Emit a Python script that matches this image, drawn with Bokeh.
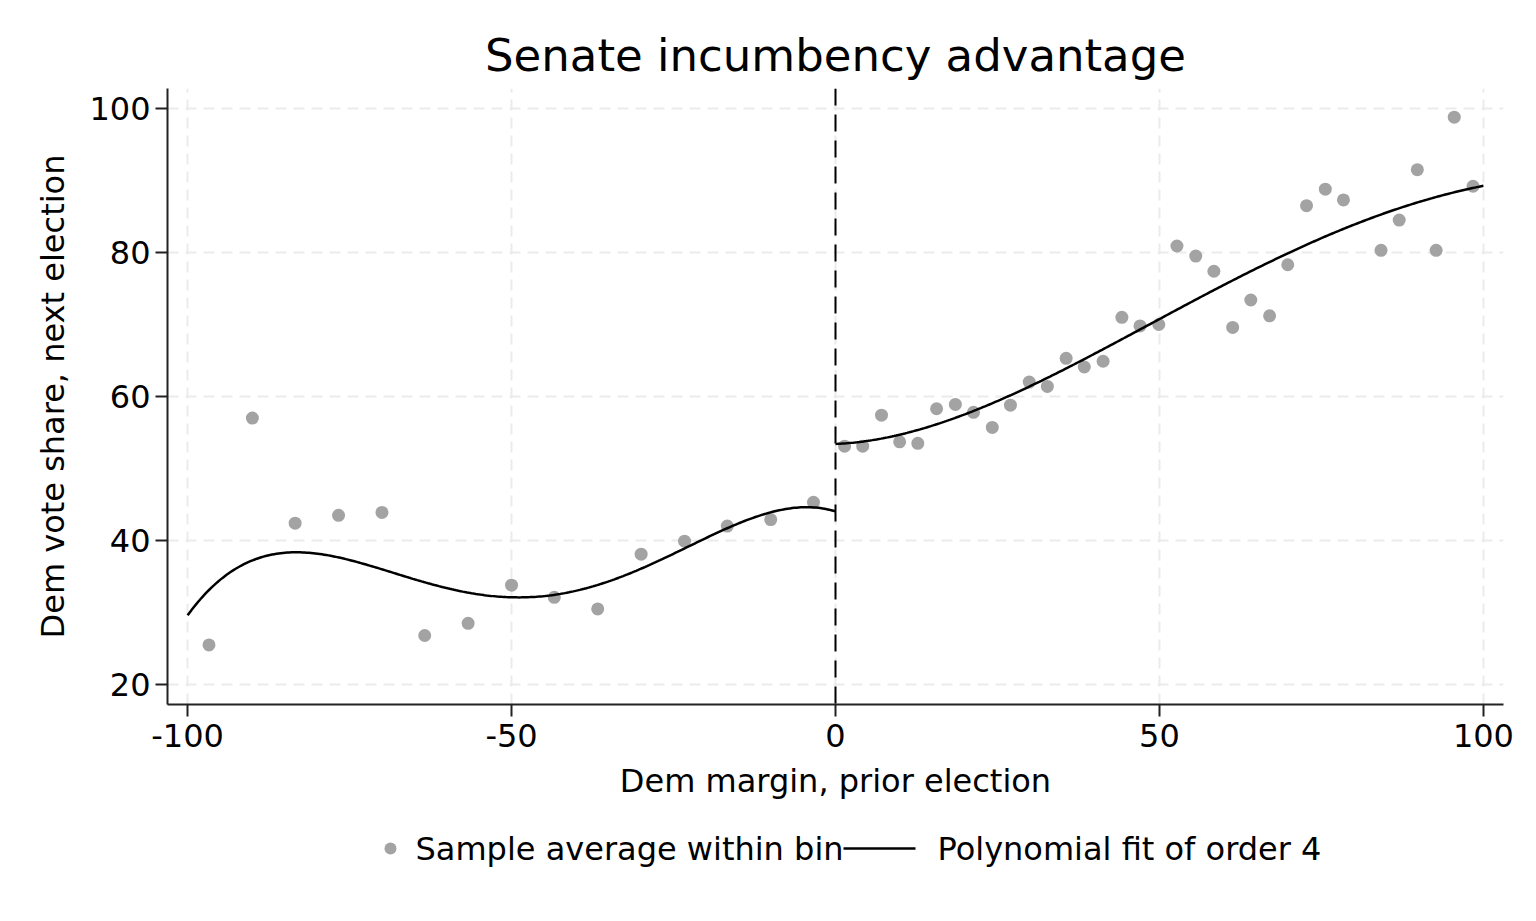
import numpy as np
from bokeh.plotting import figure
from bokeh.layouts import column
from bokeh.models import Range1d, FixedTicker, Span
from bokeh.core.properties import value
from bokeh.embed import file_html
from bokeh.resources import INLINE

# ---- data ----
bin_x_left = [-96.7, -90.0, -83.4, -76.7, -70.0, -63.4, -56.7, -50.0, -43.4, -36.7,
              -30.0, -23.3, -16.7, -10.0, -3.4]
bin_y_left = [25.5, 57.0, 42.4, 43.5, 43.9, 26.8, 28.5, 33.8, 32.1, 30.5,
              38.1, 39.9, 42.0, 42.9, 45.3]
bin_x_right = [1.4, 4.2, 7.1, 9.9, 12.7, 15.6, 18.5, 21.3, 24.2, 27.0,
               29.9, 32.7, 35.6, 38.4, 41.3, 44.2, 47.0, 49.9, 52.7, 55.6,
               58.4, 61.3, 64.1, 67.0, 69.8, 72.7, 75.6, 78.4, 84.2, 87.0,
               89.8, 92.7, 95.5, 98.4]
bin_y_right = [53.1, 53.1, 57.4, 53.7, 53.5, 58.3, 58.9, 57.8, 55.7, 58.8,
               62.0, 61.4, 65.3, 64.1, 64.9, 71.0, 69.8, 70.0, 80.9, 79.5,
               77.4, 69.6, 73.4, 71.2, 78.3, 86.5, 88.8, 87.3, 80.3, 84.5,
               91.5, 80.3, 98.8, 89.2]

# samples of the order-4 fit curves
fit_x_left = [-100, -90, -83, -70, -60, -50, -43, -30, -20, -10, -5, 0]
fit_y_left = [29.7, 37.0, 38.4, 36.1, 33.6, 32.0, 32.3, 36.1, 40.5, 43.8, 44.7, 44.0]
fit_x_right = [0, 10, 20, 30, 40, 50, 60, 70, 80, 90, 100]
fit_y_right = [53.4, 54.8, 57.4, 61.5, 65.9, 70.8, 75.6, 79.9, 83.7, 87.2, 89.2]

x_ticks = [-100, -50, 0, 50, 100]
x_tick_labels = {-100: "-100", -50: "-50", 0: "0", 50: "50", 100: "100"}
y_ticks = [20, 40, 60, 80, 100]

title_text = "Senate incumbency advantage"
x_label = "Dem margin, prior election"
y_label = "Dem vote share, next election"
legend_labels = ["Sample average within bin", "Polynomial fit of order 4"]

FONT = "DejaVu Sans"
PT_COLOR = "#a3a3a3"
W = 1528
FRAME_L, FRAME_R = 167, 1503

p = figure(width=W, height=830, output_backend="svg", toolbar_location=None,
           x_range=Range1d(-103.1, 103.1), y_range=Range1d(17.22, 102.78),
           min_border_left=FRAME_L, min_border_right=W - FRAME_R, min_border_top=88,
           min_border_bottom=126)
p.outline_line_color = None
p.background_fill_color = "white"
p.border_fill_color = "white"

p.title.text = title_text
p.title.align = "center"
p.title.text_font = FONT
p.title.text_font_size = "45px"
p.title.text_font_style = "normal"
p.title.text_color = "black"
p.title.standoff = 13

for ax in (p.xaxis[0], p.yaxis[0]):
    ax.axis_line_color = "#222222"
    ax.axis_line_width = 2
    ax.major_tick_line_color = "#222222"
    ax.major_tick_line_width = 2
    ax.major_tick_out = 12
    ax.major_tick_in = 0
    ax.minor_tick_line_color = None
    ax.major_label_text_font = FONT
    ax.major_label_text_font_size = "32px"
    ax.major_label_text_color = "black"
    ax.axis_label_text_font = FONT
    ax.axis_label_text_font_size = "32px"
    ax.axis_label_text_font_style = "normal"
    ax.axis_label_text_color = "black"

p.xaxis.ticker = FixedTicker(ticks=x_ticks)
p.xaxis.major_label_overrides = x_tick_labels
p.yaxis.ticker = FixedTicker(ticks=y_ticks)
p.xaxis.axis_label = x_label
p.yaxis.axis_label = y_label
p.xaxis.major_label_standoff = 7
p.yaxis.major_label_standoff = 5
p.xaxis.axis_label_standoff = 12
p.yaxis.axis_label_standoff = 14

p.xgrid.ticker = FixedTicker(ticks=x_ticks)
p.ygrid.ticker = FixedTicker(ticks=y_ticks)
for g in (p.xgrid[0], p.ygrid[0]):
    g.grid_line_color = "#ebebeb"
    g.grid_line_width = 2
    g.grid_line_dash = "11 7"

p.add_layout(Span(location=0, dimension="height", line_color="black",
                  line_width=2, line_dash="17 9"))

p.scatter(bin_x_left, bin_y_left, size=13, color=PT_COLOR, line_color=None)
p.scatter(bin_x_right, bin_y_right, size=13, color=PT_COLOR, line_color=None)

cl = np.polyfit(fit_x_left, fit_y_left, 4)
cr = np.polyfit(fit_x_right, fit_y_right, 4)
xl = np.linspace(-100, 0, 300)
xr = np.linspace(0, 100, 300)
p.line(xl, np.polyval(cl, xl), line_color="black", line_width=2.5)
p.line(xr, np.polyval(cr, xr), line_color="black", line_width=2.5)

# ---- legend row (drawn in its own pixel-scaled figure, frame aligned with the plot) ----
LH = 83
lg = figure(width=W, height=LH, output_backend="svg", toolbar_location=None,
            x_range=Range1d(FRAME_L, FRAME_R), y_range=Range1d(LH, 0),
            x_axis_type=None, y_axis_type=None,
            min_border_left=FRAME_L, min_border_right=W - FRAME_R,
            min_border_top=0, min_border_bottom=0)
lg.outline_line_color = None
lg.grid.visible = False
row_y = 18
lg.scatter([390], [row_y], size=12, color=PT_COLOR, line_color=None)
lg.text([415], [row_y], text=[legend_labels[0]], text_font=value(FONT),
        text_font_size="32px", text_baseline="middle", text_align="left",
        text_color="black")
lg.line([843, 915], [row_y, row_y], line_color="black", line_width=2.5)
lg.text([937], [row_y], text=[legend_labels[1]], text_font=value(FONT),
        text_font_size="32px", text_baseline="middle", text_align="left",
        text_color="black")

layout = column(p, lg, spacing=0)
open("out.html", "w").write(file_html(layout, INLINE))
